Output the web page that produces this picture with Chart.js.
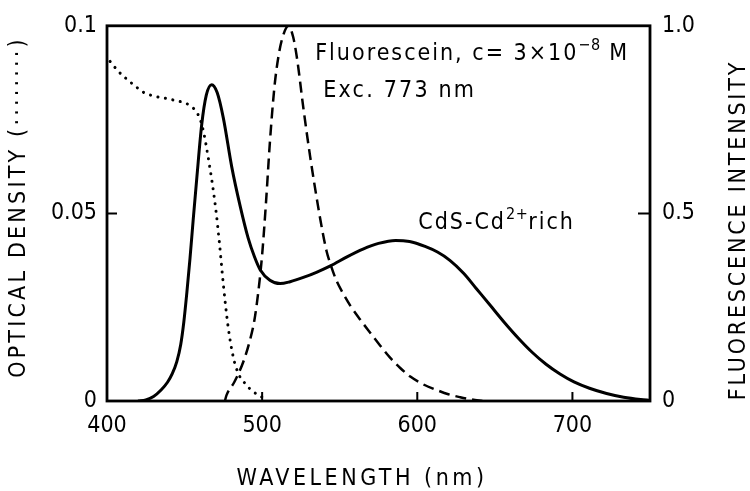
<!DOCTYPE html>
<html>
<head>
<meta charset="utf-8">
<script src="https://cdn.jsdelivr.net/npm/chart.js@4.4.1/dist/chart.umd.min.js"></script>
<style>
  body { margin: 0; background: #fff; }
  #wrap { width: 750px; height: 491px; }
</style>
</head>
<body>
<div id="wrap"><canvas id="spectra" width="750" height="491"></canvas></div>
<script>
// wavelength (nm) / value pairs
const absNm  = [402, 407, 412.7, 418, 423.4, 430, 438.5, 444, 449, 453, 456, 458.5, 460.5, 462.5, 465, 467.5, 470, 472.5, 475, 478, 481.5, 485, 488, 492, 496.6, 500];
const absOD  = [0.0905, 0.088, 0.0858, 0.084, 0.0823, 0.0813, 0.0806, 0.0801, 0.0796, 0.0789, 0.0779, 0.0765, 0.0745, 0.0712, 0.0655, 0.0590, 0.0515, 0.042, 0.031, 0.02, 0.0115, 0.007, 0.0052, 0.0033, 0.0018, 0.001];

const cdsNm  = [420, 425, 430, 435, 439, 442, 445, 447.5, 449.5, 451.5, 453.5, 455.5, 458, 461, 464, 467.5, 471, 475, 480.4, 485.8, 491, 495, 498.7, 505, 511.6, 518, 527, 535, 544, 555, 565, 575, 586, 595, 605, 613, 621, 630, 638, 647, 656, 665, 674, 683, 692, 701, 711, 722, 733, 744, 750];
const cdsFl  = [0, 0.003, 0.012, 0.03, 0.05, 0.072, 0.105, 0.15, 0.21, 0.29, 0.38, 0.48, 0.60, 0.735, 0.815, 0.843, 0.822, 0.754, 0.624, 0.52, 0.434, 0.385, 0.35, 0.322, 0.313, 0.318, 0.33, 0.343, 0.36, 0.385, 0.405, 0.42, 0.428, 0.425, 0.412, 0.397, 0.375, 0.34, 0.30, 0.255, 0.21, 0.168, 0.13, 0.098, 0.072, 0.051, 0.034, 0.02, 0.01, 0.004, 0.002];

const fluNm  = [476, 477, 482, 488, 492, 495, 497.5, 500, 502.5, 505, 508, 511, 514, 517, 520, 522.6, 526.6, 531, 536, 539, 541.5, 544, 548, 552, 557, 563, 570, 576, 582.6, 589, 595.5, 604, 612.7, 620, 627.7, 635, 642];
const fluFl  = [0, 0.015, 0.05, 0.106, 0.16, 0.215, 0.29, 0.39, 0.53, 0.69, 0.84, 0.93, 0.98, 1.0, 0.97, 0.91, 0.78, 0.65, 0.52, 0.45, 0.40, 0.365, 0.32, 0.288, 0.253, 0.218, 0.18, 0.148, 0.115, 0.088, 0.065, 0.044, 0.029, 0.018, 0.01, 0.004, 0];

const xTicks = [400, 500, 600, 700];
const odTicks = [0, 0.05, 0.1];
const odLabels = ['0', '0.05', '0.1'];
const flTicks = [0, 0.5, 1.0];
const flLabels = ['0', '0.5', '1.0'];

const FONT = '"DejaVu Sans Condensed", "DejaVu Sans", sans-serif';

function pairs(xs, ys) {
    return xs.map((x, i) => ({ x: x, y: ys[i] }));
}

function txt(ctx, s, x, y, size, spacing) {
    ctx.font = size + 'px ' + FONT;
    ctx.letterSpacing = spacing + 'px';
    ctx.fillText(s, x, y);
    return x + ctx.measureText(s).width;
}

const overlay = {
    id: 'overlay',
    afterDraw(chart) {
        const { ctx, chartArea: a, scales } = chart;
        const x = scales.x, y = scales.y, y1 = scales.y1;
        ctx.save();
        ctx.strokeStyle = '#000';
        ctx.fillStyle = '#000';
        ctx.lineWidth = 2.8;
        ctx.strokeRect(a.left, a.top, a.right - a.left, a.bottom - a.top);

        // inward tick marks
        ctx.lineWidth = 2;
        ctx.beginPath();
        xTicks.slice(1).forEach(v => {
            const px = x.getPixelForValue(v);
            ctx.moveTo(px, a.bottom);
            ctx.lineTo(px, a.bottom - 9);
        });
        const py = y.getPixelForValue(0.05);
        ctx.moveTo(a.left, py);
        ctx.lineTo(a.left + 10, py);
        const py1 = y1.getPixelForValue(0.5);
        ctx.moveTo(a.right, py1);
        ctx.lineTo(a.right - 12, py1);
        ctx.stroke();

        ctx.textBaseline = 'alphabetic';
        ctx.textAlign = 'left';

        // annotations
        let cx = x.getPixelForValue(534.2), cy = y1.getPixelForValue(0.909);
        cx = txt(ctx, 'Fluorescein, c= 3×10', cx, cy, 23, 2);
        cx = txt(ctx, '−8', cx, cy - 10, 16, 0.5);
        txt(ctx, ' M', cx, cy, 23, 2);

        txt(ctx, 'Exc. 773 nm', x.getPixelForValue(539.4), y1.getPixelForValue(0.811), 23, 2.2);

        cx = x.getPixelForValue(600.6); cy = y1.getPixelForValue(0.458);
        cx = txt(ctx, 'CdS-Cd', cx, cy, 23, 2);
        cx = txt(ctx, '2+', cx, cy - 10, 16, 0.5);
        txt(ctx, 'rich', cx, cy, 23, 2);

        // axis titles
        ctx.textAlign = 'center';
        txt(ctx, 'WAVELENGTH (nm)', 362, 485, 23, 3.5);

        ctx.save();
        ctx.translate(25, 207);
        ctx.rotate(-Math.PI / 2);
        txt(ctx, 'OPTICAL DENSITY (········)', 0, 0, 23, 3.2);
        ctx.restore();

        ctx.save();
        ctx.translate(745, 230);
        ctx.rotate(-Math.PI / 2);
        txt(ctx, 'FLUORESCENCE INTENSITY', 0, 0, 23, 2.8);
        ctx.restore();

        ctx.restore();
    }
};

const tickFont = { family: FONT, size: 23 };

new Chart(document.getElementById('spectra'), {
    type: 'line',
    data: {
        datasets: [
            {
                label: 'Optical density',
                data: pairs(absNm, absOD),
                yAxisID: 'y',
                borderColor: '#000',
                borderWidth: 3,
                borderDash: [0.1, 7.5],
                borderCapStyle: 'round',
                cubicInterpolationMode: 'monotone',
                pointRadius: 0
            },
            {
                label: 'CdS-Cd2+ rich',
                data: pairs(cdsNm, cdsFl),
                yAxisID: 'y1',
                borderColor: '#000',
                borderWidth: 3,
                cubicInterpolationMode: 'monotone',
                pointRadius: 0
            },
            {
                label: 'Fluorescein',
                data: pairs(fluNm, fluFl),
                yAxisID: 'y1',
                borderColor: '#000',
                borderWidth: 2.5,
                borderDash: [11, 6],
                cubicInterpolationMode: 'monotone',
                pointRadius: 0
            }
        ]
    },
    options: {
        responsive: false,
        animation: false,
        layout: { padding: { top: 15, left: 0, right: 0, bottom: 0 } },
        plugins: { legend: { display: false }, tooltip: { enabled: false } },
        scales: {
            x: {
                type: 'linear',
                min: 400,
                max: 750,
                grid: { display: false, drawTicks: false },
                border: { display: false },
                afterBuildTicks: s => { s.ticks = xTicks.map(v => ({ value: v })); },
                afterFit: s => { s.height = 90; },
                ticks: { color: '#000', font: tickFont, padding: 11, maxRotation: 0 }
            },
            y: {
                position: 'left',
                min: 0,
                max: 0.1,
                grid: { display: false, drawTicks: false },
                border: { display: false },
                afterBuildTicks: s => { s.ticks = odTicks.map(v => ({ value: v })); },
                afterFit: s => { s.width = 107; },
                ticks: {
                    color: '#000', font: tickFont, padding: 10,
                    callback: (v, i) => odLabels[i]
                }
            },
            y1: {
                position: 'right',
                min: 0,
                max: 1,
                grid: { display: false, drawTicks: false },
                border: { display: false },
                afterBuildTicks: s => { s.ticks = flTicks.map(v => ({ value: v })); },
                afterFit: s => { s.width = 100; },
                ticks: {
                    color: '#000', font: tickFont, padding: 12,
                    callback: (v, i) => flLabels[i]
                }
            }
        }
    },
    plugins: [overlay]
});
</script>
</body>
</html>
